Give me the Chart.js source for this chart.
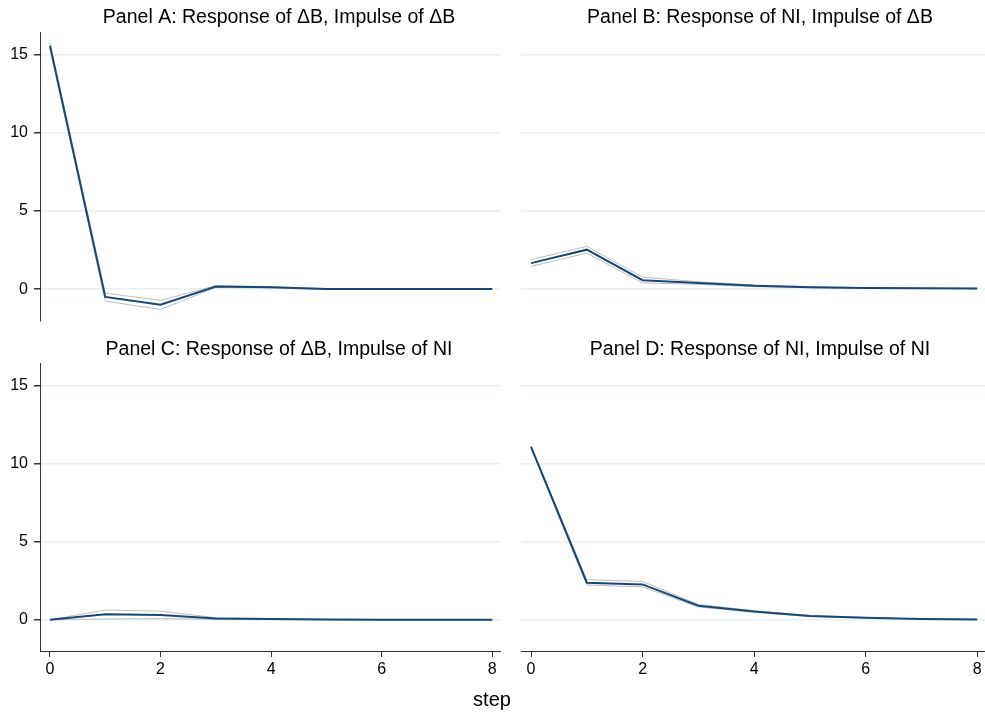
<!DOCTYPE html>
<html>
<head>
<meta charset="utf-8">
<script src="https://cdn.jsdelivr.net/npm/chart.js@4.4.1/dist/chart.umd.min.js"></script>
<style>
  body { margin: 0; background: #fff; overflow: hidden; }
  #wrap { position: relative; width: 985px; height: 720px; }
  canvas { position: absolute; }
</style>
</head>
<body>
<div id="wrap">
  <canvas id="panelA" width="558" height="336" style="left:0px;top:0px"></canvas>
  <canvas id="panelB" width="510" height="336" style="left:505px;top:0px"></canvas>
  <canvas id="panelC" width="558" height="390" style="left:0px;top:330px"></canvas>
  <canvas id="panelD" width="510" height="390" style="left:505px;top:330px"></canvas>
</div>
<script>
// steps and axis ticks
var steps = [0, 1, 2, 3, 4, 5, 6, 7, 8];
var xTicks = [0, 2, 4, 6, 8];
var yTicks = [0, 5, 10, 15];

// Panel A: response of dB, impulse of dB
var irfA = [15.55, -0.5, -1.0, 0.17, 0.12, 0.01, 0.0, 0.0, 0.0];
var loA  = [15.4, -0.77, -1.3, 0.1, 0.08, -0.02, -0.01, 0.0, 0.0];
var hiA  = [15.75, -0.26, -0.72, 0.22, 0.15, 0.03, 0.01, 0.0, 0.0];

// Panel B: response of NI, impulse of dB
var irfB = [1.64, 2.5, 0.55, 0.36, 0.19, 0.1, 0.05, 0.03, 0.01];
var loB  = [1.43, 2.28, 0.38, 0.28, 0.14, 0.07, 0.03, 0.02, 0.0];
var hiB  = [1.86, 2.71, 0.74, 0.45, 0.24, 0.13, 0.07, 0.04, 0.02];

// Panel C: response of dB, impulse of NI
var irfC = [0.0, 0.35, 0.3, 0.08, 0.04, 0.01, 0.0, 0.0, 0.0];
var loC  = [0.0, 0.05, 0.07, 0.03, 0.01, 0.0, 0.0, 0.0, 0.0];
var hiC  = [0.0, 0.62, 0.55, 0.13, 0.07, 0.02, 0.01, 0.0, 0.0];

// Panel D: response of NI, impulse of NI
var irfD = [11.06, 2.37, 2.26, 0.9, 0.53, 0.24, 0.13, 0.05, 0.02];
var loD  = [11.0, 2.22, 2.1, 0.82, 0.48, 0.21, 0.11, 0.04, 0.01];
var hiD  = [11.12, 2.56, 2.45, 0.98, 0.58, 0.27, 0.15, 0.06, 0.03];

Chart.defaults.font.family = "'Liberation Sans', Arial, sans-serif";
Chart.defaults.color = '#000';

var navy = '#1a476f';
var ciGray = '#bdbdbd';
var gridCol = '#e8f0f2';
var axisCol = '#333';

function pts(vals) {
  return steps.map(function (s, i) { return { x: s, y: vals[i] }; });
}

// "step" title shared by the bottom row
var stepLabel = {
  id: 'stepLabel',
  afterDraw: function (chart) {
    var c = chart.ctx;
    c.save();
    c.font = "20px 'Liberation Sans', Arial, sans-serif";
    c.fillStyle = '#000';
    c.textAlign = 'center';
    c.textBaseline = 'middle';
    c.fillText('step', 492, 370);
    c.restore();
  }
};

function makePanel(id, title, irf, lo, hi, opts) {
  var ctx = document.getElementById(id).getContext('2d');
  return new Chart(ctx, {
    type: 'line',
    data: {
      datasets: [
        { data: pts(irf), borderColor: navy, borderWidth: 2 },
        { data: pts(lo), borderColor: ciGray, borderWidth: 1 },
        { data: pts(hi), borderColor: ciGray, borderWidth: 1 }
      ]
    },
    options: {
      responsive: false,
      animation: false,
      events: [],
      layout: { padding: { top: 0, left: 0, right: 0, bottom: opts.padBottom } },
      elements: { point: { radius: 0 }, line: { tension: 0 } },
      plugins: {
        legend: { display: false },
        tooltip: { enabled: false },
        title: {
          display: true,
          text: title,
          font: { size: 19.5, weight: 'normal' },
          color: '#000',
          padding: opts.titlePad
        }
      },
      scales: {
        x: {
          type: 'linear',
          min: -0.18,
          max: 8.14,
          display: opts.showX,
          afterBuildTicks: function (axis) {
            axis.ticks = xTicks.map(function (v) { return { value: v }; });
          },
          afterFit: function (axis) { if (opts.showX) axis.height = 69; },
          ticks: { font: { size: 16 }, padding: 3, maxRotation: 0 },
          grid: { drawOnChartArea: false, tickLength: 6, tickColor: axisCol },
          border: { display: true, color: axisCol, width: 1 }
        },
        y: {
          min: -2.0,
          max: 16.4,
          afterBuildTicks: function (axis) {
            axis.ticks = yTicks.map(function (v) { return { value: v }; });
          },
          afterFit: function (axis) { axis.width = opts.leftW; },
          ticks: { display: opts.showY, font: { size: 16 }, padding: 6 },
          grid: { color: gridCol, lineWidth: 1.5, drawTicks: opts.showY, tickLength: 6, tickColor: axisCol },
          border: { display: opts.showY, color: axisCol, width: 1 }
        },
        // empty right-hand spacer so the plot ends where the panel does
        yPad: {
          type: 'linear',
          position: 'right',
          afterFit: function (axis) { axis.width = opts.rightW; },
          ticks: { display: false },
          grid: { display: false },
          border: { display: false }
        }
      }
    },
    plugins: opts.extra || []
  });
}

makePanel('panelA', 'Panel A: Response of \u0394B, Impulse of \u0394B', irfA, loA, hiA, {
  padBottom: 0, leftW: 40, rightW: 58,
  titlePad: { top: 6, bottom: 3 },
  showX: false, showY: true
});
makePanel('panelB', 'Panel B: Response of NI, Impulse of \u0394B', irfB, loB, hiB, {
  padBottom: 16, leftW: 16, rightW: 30,
  titlePad: { top: 6, bottom: 3 },
  showX: false, showY: false
});
makePanel('panelC', 'Panel C: Response of \u0394B, Impulse of NI', irfC, loC, hiC, {
  padBottom: 0, leftW: 40, rightW: 58,
  titlePad: { top: 8, bottom: 2 },
  showX: true, showY: true,
  extra: [stepLabel]
});
makePanel('panelD', 'Panel D: Response of NI, Impulse of NI', irfD, loD, hiD, {
  padBottom: 0, leftW: 16, rightW: 30,
  titlePad: { top: 8, bottom: 2 },
  showX: true, showY: false
});
</script>
</body>
</html>
